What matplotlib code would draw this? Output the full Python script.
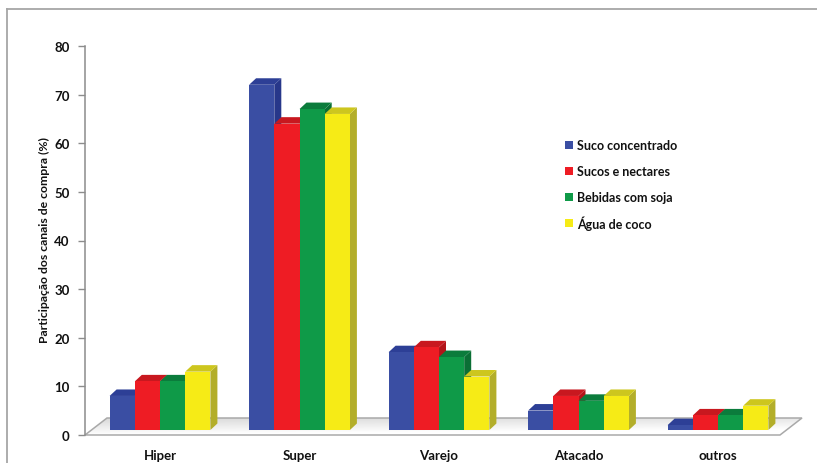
import numpy as np
import matplotlib
matplotlib.use("Agg")
import matplotlib.pyplot as plt
from matplotlib.patches import Polygon
from matplotlib.lines import Line2D

# Share of purchase channels (%) by beverage type
channels = ["Hiper", "Super", "Varejo", "Atacado", "outros"]
series_names = ["Suco concentrado", "Sucos e nectares", "Bebidas com soja", "Água de coco"]
suco_concentrado = [7, 71, 16, 4, 1]
sucos_nectares = [10, 63, 17, 7, 3]
bebidas_soja = [10, 66, 15, 6, 3]
agua_coco = [12, 65, 11, 7, 5]
yticks = [0, 10, 20, 30, 40, 50, 60, 70, 80]

series = [suco_concentrado, sucos_nectares, bebidas_soja, agua_coco]
# (front, side, top) shades for each series
shades = [
    ("#3a4ea3", "#27378a", "#2d3f96"),
    ("#ee1c24", "#b3141a", "#c8181f"),
    ("#0f9a48", "#0a6f35", "#0b7c3c"),
    ("#f6eb16", "#b3ae2a", "#cdc61e"),
]

plt.rcParams["font.family"] = ["Lato", "DejaVu Sans"]

W, H, DPI = 817, 464, 100
fig = plt.figure(figsize=(W / DPI, H / DPI), dpi=DPI)
fig.patch.set_facecolor("white")

# outer chart border (top and left edges)
bx, by = 7 / W, 1 - 10 / H
fig.add_artist(Line2D([bx, bx], [-0.02, by], transform=fig.transFigure,
                      color="#a6a6a6", lw=1.3))
fig.add_artist(Line2D([bx, 1.02], [by, by], transform=fig.transFigure,
                      color="#a6a6a6", lw=1.3))

ax_left_px, ax_right_px = 85, 803
ax_top_px, ax_bot_px = 47, 436
ax = fig.add_axes([ax_left_px / W, (H - ax_bot_px) / H,
                   (ax_right_px - ax_left_px) / W, (ax_bot_px - ax_top_px) / H])
ax.set_facecolor("none")

spacing_px = 139.5
x0 = -(160 - ax_left_px) / spacing_px
x1 = x0 + (ax_right_px - ax_left_px) / spacing_px
ax.set_xlim(x0, x1)
ax.set_ylim(0, 80)

# data units per pixel
px_x = (x1 - x0) / (ax_right_px - ax_left_px)
px_y = 80 / (ax_bot_px - ax_top_px)

# floor (drawn in perspective)
floor_dx, floor_dy = 22 * px_x, 17 * px_y
floor_right = x0 + (780 - ax_left_px) * px_x
floor_pts = [(x0, 0), (floor_right, 0), (floor_right + floor_dx, floor_dy),
             (x0 + floor_dx, floor_dy)]
grad = np.linspace(0, 1, 64)[:, None] * np.ones((1, 256))
xx = np.linspace(0, 1, 256)[None, :]
shade = 0.84 + 0.16 * (1 - grad) + 0.05 * xx
shade = np.clip(shade, 0, 1)
img = np.dstack([shade, shade, shade])
floor_poly = Polygon(floor_pts, closed=True, facecolor="none",
                     edgecolor="#a9a9a9", lw=1.1, zorder=2, clip_on=False)
im = ax.imshow(img, extent=[x0, floor_right + floor_dx, 0, floor_dy],
               origin="lower", aspect="auto", zorder=1, interpolation="bilinear")
im.set_clip_path(Polygon(floor_pts, closed=True, transform=ax.transData))
ax.add_patch(floor_poly)
ax.set_xlim(x0, x1)
ax.set_ylim(0, 80)

# 3D columns
bar_w = 25.2 / spacing_px
dx, dy = 7 * px_x, 6.5 * px_y
lift = 5 * px_y
n = len(series)
z = 3
for ci in range(len(channels)):
    for si in range(n):
        v = series[si][ci]
        front_c, side_c, top_c = shades[si]
        left = ci + (si - n / 2) * bar_w
        right = left + bar_w
        b, t = lift, lift + v
        front = Polygon([(left, b), (right, b), (right, t), (left, t)],
                        closed=True, facecolor=front_c, edgecolor="none", zorder=z)
        side = Polygon([(right, b), (right + dx, b + dy), (right + dx, t + dy), (right, t)],
                       closed=True, facecolor=side_c, edgecolor="none", zorder=z)
        top = Polygon([(left, t), (right, t), (right + dx, t + dy), (left + dx, t + dy)],
                      closed=True, facecolor=top_c, edgecolor="none", zorder=z)
        for p in (side, top, front):
            ax.add_patch(p)
        z += 1

# axes styling
for s in ("top", "right", "bottom"):
    ax.spines[s].set_visible(False)
ax.spines["left"].set_color("#8c8c8c")
ax.spines["left"].set_linewidth(1.1)
ax.set_yticks(yticks)
ax.set_yticklabels([str(v) for v in yticks], fontsize=9.5, fontweight="bold",
                   color="#111111")
ax.tick_params(axis="y", length=5, width=1.0, color="#8c8c8c", pad=6)
ax.set_xticks(range(len(channels)))
ax.set_xticklabels(channels, fontsize=9.5, fontweight="bold", color="#111111")
ax.tick_params(axis="x", length=0, pad=10)

fig.text(44 / W, 1 - 240 / H, "Participação dos canais de compra (%)",
         rotation=90, ha="center", va="center", fontsize=8.8, fontweight="bold",
         color="#111111")

# legend
leg_x_px, leg_y_px = 565, [146, 172, 198, 224]
for si, name in enumerate(series_names):
    yc = leg_y_px[si]
    sq = plt.Rectangle((leg_x_px / W, 1 - (yc + 4) / H), 8 / W, 8 / H,
                       transform=fig.transFigure, facecolor=shades[si][0],
                       edgecolor="none")
    fig.add_artist(sq)
    fig.text((leg_x_px + 12) / W, 1 - yc / H, name, ha="left", va="center",
             fontsize=9, fontweight="bold", color="#111111")

fig.savefig("out.png", dpi=DPI, facecolor="white")
